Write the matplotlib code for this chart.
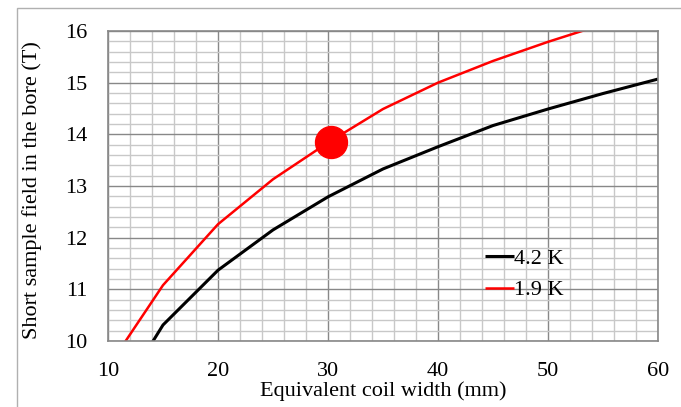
import numpy as np
import matplotlib.pyplot as plt
from matplotlib.patches import Rectangle

plt.rcParams['font.family'] = 'Liberation Serif'

# coil width (mm)
width = [10, 15, 20, 25, 30, 35, 40, 45, 50, 55, 60]
# short sample field at 4.2 K (T)
field_42 = [8.59, 10.31, 11.37, 12.15, 12.79, 13.33, 13.76, 14.17, 14.49, 14.79, 15.07]
# short sample field at 1.9 K (T)
width_19 = [10, 15, 20, 25, 30, 35, 40, 45, 50, 55]
field_19 = [9.49, 11.08, 12.26, 13.13, 13.84, 14.49, 15.00, 15.42, 15.79, 16.13]
# operating point
point_x = [30.3]
point_y = [13.86]

fig = plt.figure(figsize=(6.81, 4.07), dpi=100)
ax = fig.add_axes([108/681, 1 - 341/407, 550/681, 310/407])

# outer frame
fig.patches.append(Rectangle((17/681, -0.1), 1.0, 1 - 8/407 + 0.1,
                             transform=fig.transFigure, fill=False,
                             edgecolor='#b0b0b0', linewidth=1.0))

ax.plot(width, field_42, color='black', lw=2.2, label='4.2 K', solid_capstyle='butt')
ax.plot(width_19, field_19, color='#ff0000', lw=1.8, label='1.9 K', solid_capstyle='butt')
ax.plot(point_x, point_y, 'o', color='#ff0000', markersize=23, zorder=5)

ax.set_xlim(10, 60)
ax.set_ylim(10, 16)
ax.set_xticks(np.arange(10, 61, 10))
ax.set_yticks(np.arange(10, 17, 1))
ax.set_xticks(np.arange(10, 61, 2), minor=True)
ax.set_yticks(np.arange(10, 16.01, 0.2), minor=True)
ax.grid(True, which='minor', color='#c8c8c8', lw=1.0)
ax.grid(True, which='major', color='#888888', lw=1.0)
ax.set_axisbelow(True)
ax.tick_params(which='both', length=0, labelsize=16)
ax.tick_params(axis='x', pad=15)
ax.tick_params(axis='y', pad=15)
for s in ax.spines.values():
    s.set_color('#888888')
    s.set_linewidth(1.2)

ax.set_xlabel('Equivalent coil width (mm)', fontsize=16, labelpad=0)
ax.set_ylabel('Short sample field in the bore (T)', fontsize=16)
ax.yaxis.set_label_coords(-0.12, 0.487)

leg = ax.legend(loc='lower left', bbox_to_anchor=(0.666, 0.095), frameon=False,
                fontsize=16, handlelength=1.3, handletextpad=0.0,
                labelspacing=0.5, borderpad=0)

fig.savefig('out.png', dpi=100)
